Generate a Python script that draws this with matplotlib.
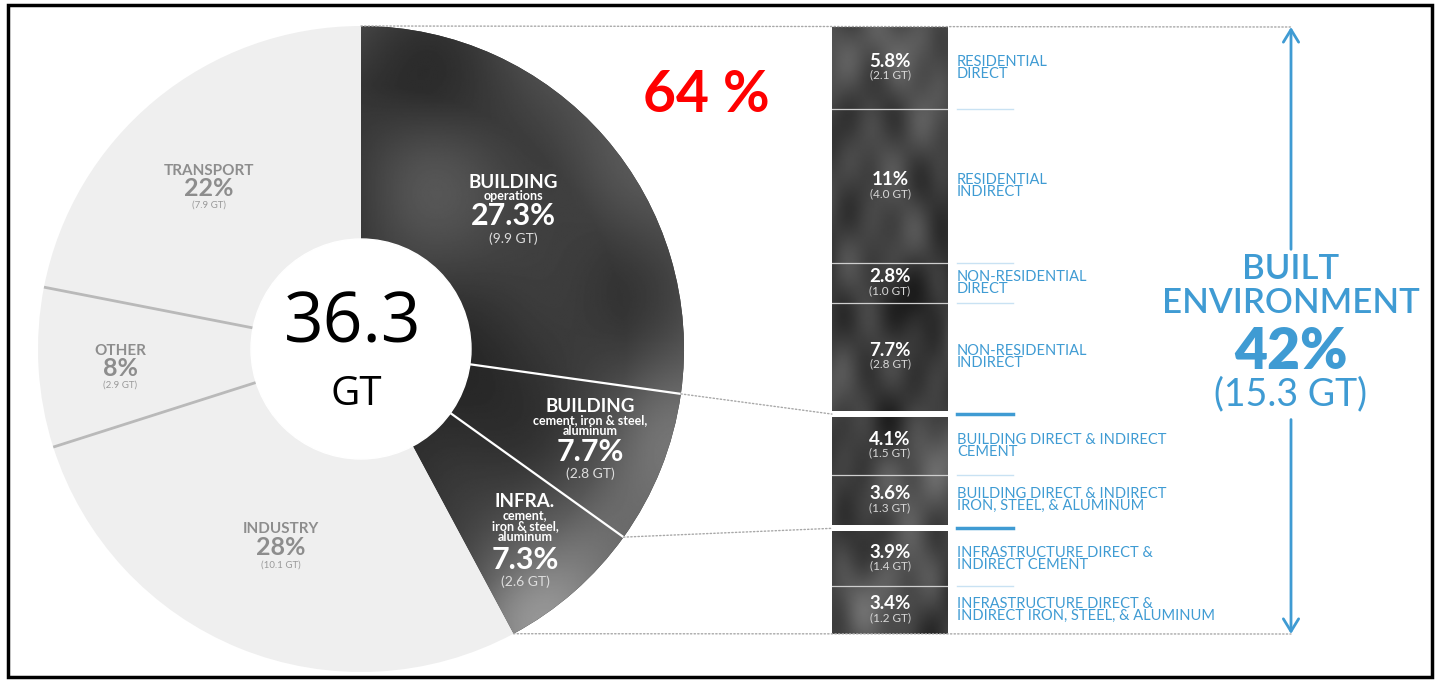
import numpy as np
import matplotlib
matplotlib.use('Agg')
import matplotlib.pyplot as plt
from matplotlib.patches import Circle, Rectangle, ConnectionPatch
from matplotlib.transforms import blended_transform_factory

plt.rcParams['font.family'] = ['Lato', 'DejaVu Sans']

# Global emissions split (share of 36.3 GT)
total_gt = 36.3
sector_names = ['BUILDING', 'BUILDING', 'INFRA.', 'INDUSTRY', 'OTHER', 'TRANSPORT']
sector_subs = [['operations'],
               ['cement, iron & steel,', 'aluminum'],
               ['cement,', 'iron & steel,', 'aluminum'],
               [], [], []]
sector_pct = [27.3, 7.7, 7.3, 28, 8, 22]
sector_gt = [9.9, 2.8, 2.6, 10.1, 2.9, 7.9]
sector_dark = [True, True, True, False, False, False]

# Built environment breakdown
detail_pct = [5.8, 11, 2.8, 7.7, 4.1, 3.6, 3.9, 3.4]
detail_gt = [2.1, 4.0, 1.0, 2.8, 1.5, 1.3, 1.4, 1.2]
detail_group = [0, 0, 0, 0, 1, 1, 2, 2]
detail_labels = ['RESIDENTIAL\nDIRECT',
                 'RESIDENTIAL\nINDIRECT',
                 'NON-RESIDENTIAL\nDIRECT',
                 'NON-RESIDENTIAL\nINDIRECT',
                 'BUILDING DIRECT & INDIRECT\nCEMENT',
                 'BUILDING DIRECT & INDIRECT\nIRON, STEEL, & ALUMINUM',
                 'INFRASTRUCTURE DIRECT &\nINDIRECT CEMENT',
                 'INFRASTRUCTURE DIRECT &\nINDIRECT IRON, STEEL, & ALUMINUM']
built_pct = 42
built_gt = 15.3
highlight_text = '64 %'

W, H = 1438, 682
BLUE = '#3f9bd3'
LIGHT_TXT = '#8d8d8d'


def waves(X, Y, shift):
    """Soft low-frequency ripple used for the watercolour shading."""
    f = np.zeros_like(X)
    comps = [(1.1, 0.6, 0.3, 0.03), (1.9, -1.4, 1.7, 0.025), (2.7, 2.3, 2.2, 0.02),
             (-3.3, 2.1, 0.8, 0.015), (0.5, 2.0, 5.0, 0.02)]
    for kx, ky, ph, a in comps:
        f += a * np.sin(np.pi * (kx * X + ky * Y) + ph + shift)
    return f


def blob(X, Y, x0, y0, s, a):
    return a * np.exp(-((X - x0) ** 2 + (Y - y0) ** 2) / s)


fig = plt.figure(figsize=(W / 100, H / 100), dpi=100)

# ---- donut -----------------------------------------------------------
cx, cy, R = 361, 349, 323
pie_ax = fig.add_axes([(cx - R) / W, (H - cy - R) / H, 2 * R / W, 2 * R / H])
colors = ['#2f2f2f' if d else '#efefef' for d in sector_dark]
wedges, _ = pie_ax.pie(sector_pct, startangle=90, counterclock=False,
                       colors=colors, radius=1, wedgeprops=dict(linewidth=0))

g = np.linspace(-1, 1, 500)
X, Y = np.meshgrid(g, g)
r = np.hypot(X, Y)
tex = 0.18 + waves(X, Y, 0.0)
tex += blob(X, Y, 0.75, 0.55, 0.10, 0.12)
tex += blob(X, Y, 0.15, 0.55, 0.06, 0.06)
tex += blob(X, Y, 0.95, -0.25, 0.08, 0.16)
tex += blob(X, Y, 0.50, -0.85, 0.06, 0.25)
tex += blob(X, Y, 0.70, -0.55, 0.05, 0.10)
tex += 0.08 * np.clip((r - 0.82) / 0.18, 0, 1)
for w, d in zip(wedges, sector_dark):
    if d:
        im = pie_ax.imshow(tex, extent=(-1, 1, -1, 1), origin='lower', cmap='gray',
                           vmin=0, vmax=1, interpolation='bilinear', zorder=1.5)
        im.set_clip_path(w)

# wedge boundaries
bounds = 90 - 360 * np.concatenate([[0], np.cumsum(sector_pct)]) / np.sum(sector_pct)
r_in = 110 / R
for i, a in enumerate(bounds[1:-1], start=1):
    t = np.deg2rad(a)
    if sector_dark[i - 1] and sector_dark[i]:
        col, lw = 'white', 1.6
    elif not sector_dark[i - 1] and not sector_dark[i]:
        col, lw = '#b9b9b9', 2
    else:
        continue
    pie_ax.plot([r_in * np.cos(t), np.cos(t)], [r_in * np.sin(t), np.sin(t)],
                color=col, lw=lw, zorder=3, solid_capstyle='butt')
pie_ax.add_patch(Circle((0, 0), r_in, color='white', zorder=4))
pie_ax.text(-0.025, 0.075, f'{total_gt:g}', ha='center', va='center', fontsize=50,
            family=['Open Sans', 'DejaVu Sans'], color='black', zorder=5)
pie_ax.text(-0.015, -0.142, 'GT', ha='center', va='center', fontsize=29,
            family=['Open Sans', 'DejaVu Sans'], color='black', zorder=5)

# sector labels: radius and small angle nudge around the wedge mid angle
label_r = [0.626, 0.777, 0.827, 0.664, 0.748, 0.685]
label_nudge = [0, -2.4, -3.4, 0, 1.2, 3.9]
for i in range(len(sector_pct)):
    mid = np.deg2rad((bounds[i] + bounds[i + 1]) / 2 + label_nudge[i])
    px, py = label_r[i] * np.cos(mid), label_r[i] * np.sin(mid)
    if sector_dark[i]:
        c_main, c_gt = 'white', '#dedede'
        s_name, s_sub, s_pct, s_gt = 13.5, 9, 22, 10
    else:
        c_main, c_gt = LIGHT_TXT, '#9a9a9a'
        s_name, s_sub, s_pct, s_gt = 11, 8, 18, 7
    subs = sector_subs[i]
    lines = [(sector_names[i], s_name)] + [(s, s_sub) for s in subs]
    # offsets (px, downward) of the name/sub lines above the percentage
    if i == 0:
        offs = [-34, -20]
    elif i == 1:
        offs = [-45, -32, -21]
    elif i == 2:
        offs = [-58, -45, -34, -23]
    elif i == 3:
        offs = [-19]
    else:
        offs = [-17]
    for (txt, sz), dy in zip(lines, offs):
        pie_ax.annotate(txt, (px, py), xytext=(0, -dy * 0.72), textcoords='offset points',
                        ha='center', va='center', fontsize=sz, fontweight='bold',
                        color=c_main, zorder=6)
    pie_ax.annotate(f'{sector_pct[i]:g}%', (px, py), ha='center', va='center',
                    fontsize=s_pct, fontweight='bold', color=c_main, zorder=6)
    gdy = 22 if sector_dark[i] else 17
    pie_ax.annotate(f'({sector_gt[i]:.1f} GT)', (px, py), xytext=(0, -gdy * 0.72),
                    textcoords='offset points', ha='center', va='center',
                    fontsize=s_gt, color=c_gt, zorder=6)
pie_ax.set_xlim(-1, 1)
pie_ax.set_ylim(-1, 1)

# ---- stacked breakdown column ----------------------------------------
gap = 0.42
bottoms = []
pos = 0
for k, v in enumerate(detail_pct):
    if k > 0 and detail_group[k] != detail_group[k - 1]:
        pos += gap
    bottoms.append(pos)
    pos += v
col_total = pos
bx0, bx1, by0, by1 = 832, 948, 27, 634
bar_ax = fig.add_axes([bx0 / W, (H - by1) / H, (bx1 - bx0) / W, (by1 - by0) / H])
bars = bar_ax.bar(0.5, detail_pct, bottom=bottoms, width=1, color='#333333', linewidth=0)
bar_ax.set_xlim(0, 1)
bar_ax.set_ylim(col_total, 0)
bar_ax.axis('off')

# shading grid in the column's own pixel proportions
Xb, Yb = np.meshgrid(np.linspace(0, 1.16, 60), np.linspace(0, 6.07, 310))
tex_b = 0.24 + 1.2 * waves(Xb * 1.4, Yb * 0.9, 1.3)
tex_b += blob(Xb, Yb, 0.6, 0.3, 0.25, 0.14)
tex_b += blob(Xb, Yb, 0.2, 1.6, 0.2, 0.06)
tex_b += blob(Xb, Yb, 0.9, 4.6, 0.3, 0.10)
tex_b += blob(Xb, Yb, 0.3, 5.8, 0.3, 0.10)
tex_b -= blob(Xb, Yb, 0.6, 2.7, 0.15, 0.06)
for b in bars:
    im = bar_ax.imshow(tex_b, extent=(0, 1, col_total, 0), aspect='auto', cmap='gray',
                       vmin=0, vmax=1, interpolation='bilinear', zorder=1.5)
    im.set_clip_path(b)

bt = blended_transform_factory(bar_ax.transAxes, bar_ax.transData)
for k, v in enumerate(detail_pct):
    c = bottoms[k] + v / 2
    bar_ax.text(0.5, c - 0.45, f'{v:g}%', ha='center', va='center', fontsize=13.5,
                fontweight='bold', color='white', zorder=4)
    bar_ax.text(0.5, c + 0.52, f'({detail_gt[k]:.1f} GT)', ha='center', va='center',
                fontsize=8.5, color='#d8d8d8', zorder=4)
    bar_ax.text(1.078, c, detail_labels[k], transform=bt, ha='left', va='center',
                fontsize=10.5, color=BLUE, linespacing=0.85, clip_on=False)
    if k > 0:
        same = detail_group[k] == detail_group[k - 1]
        y = bottoms[k] if same else bottoms[k] - gap / 2
        if same:
            bar_ax.plot([0, 1], [y, y], color='#cfcfcf', lw=0.9, zorder=3)
        bar_ax.plot([1.078, 1.56], [y, y], transform=bt, clip_on=False,
                    color='#c9e2f3' if same else BLUE, lw=1 if same else 2.5)

# double arrow with built environment total
ax_x = (1291 - bx0) / (bx1 - bx0)
arrow_style = dict(arrowstyle='->,head_length=0.9,head_width=0.55', color=BLUE, lw=2,
                   shrinkA=0, shrinkB=0)
bar_ax.annotate('', xy=(ax_x, 0), xytext=(ax_x, 15.8), xycoords=bt, textcoords=bt,
                arrowprops=arrow_style)
bar_ax.annotate('', xy=(ax_x, col_total), xytext=(ax_x, 27.9), xycoords=bt, textcoords=bt,
                arrowprops=arrow_style)
bar_ax.text(ax_x, 17.2, 'BUILT', transform=bt, ha='center', va='center', fontsize=25,
            fontweight='semibold', color=BLUE, clip_on=False)
bar_ax.text(ax_x, 19.65, 'ENVIRONMENT', transform=bt, ha='center', va='center', fontsize=25,
            fontweight='semibold', color=BLUE, clip_on=False)
bar_ax.text(ax_x, 23.1, f'{built_pct}%', transform=bt, ha='center', va='center', fontsize=41,
            fontweight='heavy', color=BLUE, clip_on=False)
bar_ax.text(ax_x, 26.1, f'({built_gt:g} GT)', transform=bt, ha='center', va='center',
            fontsize=27, fontweight='normal', color=BLUE, clip_on=False)

# dotted connectors from the donut to the column
dot = dict(color='#a8a8a8', lw=1, linestyle=(0, (1, 1.6)))
links = [(bounds[0], (ax_x, 0), bt),
         (bounds[1], (0, bottoms[4] - gap / 2), bar_ax.transData),
         (bounds[2], (0, bottoms[6] - gap / 2), bar_ax.transData),
         (bounds[3], (ax_x, col_total), bt)]
for a, xyb, trb in links:
    t = np.deg2rad(a)
    cp = ConnectionPatch(xyA=(np.cos(t), np.sin(t)), coordsA=pie_ax.transData,
                         xyB=xyb, coordsB=trb, **dot)
    fig.add_artist(cp)

fig.text(706 / W, 1 - 96 / H, highlight_text, ha='center', va='center', fontsize=41,
         fontweight='bold', color='#ff0000')

# outer frame
fig.add_artist(Rectangle((8 / W, 5 / H), 1424 / W, 672 / H, transform=fig.transFigure,
                         fill=False, edgecolor='black', lw=2.5))

fig.savefig('out.png', dpi=100, facecolor='white')
